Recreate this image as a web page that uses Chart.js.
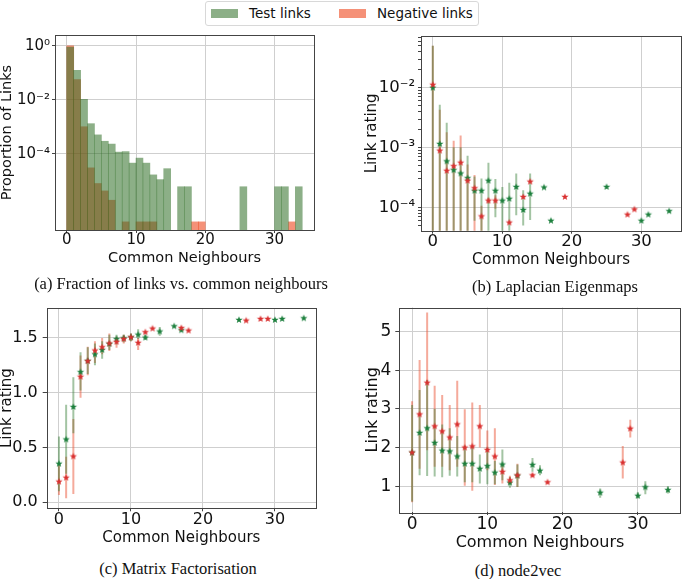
<!DOCTYPE html>
<html>
<head>
<meta charset="utf-8">
<script src="https://cdn.jsdelivr.net/npm/chart.js@4.4.1/dist/chart.umd.min.js"></script>
<style>
  body { margin: 0; background: #fff; width: 685px; height: 579px; position: relative; overflow: hidden; font-family: "DejaVu Sans"; }
  canvas { position: absolute; }
  .cap { position: absolute; font-family: "Liberation Serif"; font-size: 16.5px; line-height: 1; white-space: nowrap; transform: translate(-50%, -50%); color: #111; }
  #legend { position: absolute; left: 205px; top: 1px; width: 274px; height: 25px; box-sizing: border-box; border: 1px solid #d8d8d8; border-radius: 3px; background: #fff; }
  #legend .patch { position: absolute; top: 7px; width: 27px; height: 9px; }
  #legend .lbl { position: absolute; top: 4px; font-size: 13.5px; line-height: 15px; color: #111; }
</style>
</head>
<body>
<canvas id="histA" width="322" height="257" style="left:0px;top:23px"></canvas>
<canvas id="lapB" width="345" height="256" style="left:340px;top:24px"></canvas>
<canvas id="mfC" width="322" height="260" style="left:0px;top:295px"></canvas>
<canvas id="n2vD" width="345" height="260" style="left:340px;top:295px"></canvas>

<div id="legend">
  <span class="patch" style="left:5px;background:rgb(140,175,135)"></span><span class="lbl" style="left:43px">Test links</span>
  <span class="patch" style="left:133px;background:rgb(245,145,120)"></span><span class="lbl" style="left:171px">Negative links</span>
</div>
<div class="cap" style="left:181px;top:284px">(a) Fraction of links vs. common neighbours</div>
<div class="cap" style="left:555px;top:287px">(b) Laplacian Eigenmaps</div>
<div class="cap" style="left:178px;top:569px">(c) Matrix Factorisation</div>
<div class="cap" style="left:518px;top:571px">(d) node2vec</div>

<script>
// ---- data ----
const xTicks = [0, 10, 20, 30];

// (a) histogram, one bin per common-neighbour count (left edges)
const binEdges = [0,1,2,3,4,5,6,7,8,9,10,11,12,13,14,15,16,17,18,19,20,21,22,23,24,25,26,27,28,29,30,31,32,33];
const testHist = [0.9, 0.124, 0.0103, 0.0013, 5e-4, 2.9e-4, 2.3e-4, 1.15e-4, 1.2e-4, 4.5e-5, 6.9e-5, 4.5e-5, 1.65e-5, 1.1e-5, 2.8e-5, null,
  6e-6, 6e-6, null, null, null, null, null, null, null, 6e-6, null, null, null, null, 6e-6, 6e-6, null, 6e-6];
const negHist = [1.0, 0.056, 0.001, 3e-5, 7.9e-6, 4.2e-6, 1.9e-6, null, 3e-7, null, 3e-7, 3e-7, 3e-7, null, null, null,
  null, null, 3e-7, 3e-7, null, null, null, null, null, null, null, null, null, null, null, null, 3e-7, null];
const yTicksA = [1, 1e-2, 1e-4];

// (b) Laplacian Eigenmaps
const bGreenX = [0,1,2,3,4,5,6,7,8,9,10,11,12,13,14,16,17,25,30,31,34];
const bGreenY = [1.0e-2, 1.15e-3, 5.9e-4, 4.2e-4, 3.7e-4, 3.1e-4, 1.9e-4, 1.9e-4, 2.8e-4, 1.9e-4, 1.3e-4, 1.4e-4, 2.2e-4, 9.1e-5, 1.7e-4, 2.16e-4, 6.0e-5, 2.2e-4, 6.0e-5, 7.6e-5, 8.7e-5];
const bGreenLo = [1e-6, 1e-6, 1e-6, 1e-6, 1e-6, 1e-6, 6e-5, 1e-6, 1e-6, 6.9e-5, 1e-6, 1e-6, 7.4e-5, 5e-5, 6.2e-5, null, null, null, null, null, null];
const bGreenHi = [5e-2, 5.2e-3, 2.6e-3, 1.0e-3, 1.0e-3, 7.3e-4, 3.3e-4, 3.05e-4, 5.6e-4, 3.0e-4, 2.2e-4, 2.6e-4, 3.7e-4, 1.94e-4, 3.7e-4, null, null, null, null, null, null];
const bRedX = [0,1,2,3,4,5,6,7,8,9,11,13,14,19,28,29];
const bRedY = [1.12e-2, 8.9e-4, 4.1e-4, 4.9e-4, 5.6e-4, 2.8e-4, 2.1e-4, 7.1e-5, 1.3e-4, 1.3e-4, 5.6e-5, 1.5e-4, 2.7e-4, 1.5e-4, 7.6e-5, 9.3e-5];
const bRedLo = [1e-6, 1e-6, 1e-6, 1e-6, 1e-6, 1e-6, 1e-6, 1e-6, 1.15e-4, 9.5e-5, null, null, null, null, null, null];
const bRedHi = [5e-2, 4.3e-3, 1.8e-3, 1.3e-3, 1.6e-3, 5.2e-4, 3.5e-4, 1.07e-4, 1.45e-4, 1.6e-4, null, null, null, null, null, null];
const yTicksB = [1e-4, 1e-3, 1e-2];

// (c) Matrix Factorisation
const cGreenX = [0,1,2,3,4,5,6,7,8,9,10,11,12,14,16,17,25,30,31,34];
const cGreenY = [0.352, 0.573, 0.870, 1.188, 1.29, 1.35, 1.39, 1.445, 1.49, 1.497, 1.506, 1.53, 1.503, 1.558, 1.606, 1.57, 1.664, 1.664, 1.673, 1.679];
const cGreenLo = [0.10, 0.26, 0.63, 1.02, 1.17, 1.25, 1.31, 1.39, 1.44, 1.46, 1.47, 1.49, 1.48, 1.52, null, null, null, null, null, null];
const cGreenHi = [0.60, 0.89, 1.14, 1.37, 1.415, 1.45, 1.47, 1.53, 1.53, 1.53, 1.54, 1.58, 1.53, 1.60, null, null, null, null, null, null];
const cRedX = [0,1,2,3,4,5,6,7,8,9,10,11,12,13,17,18,26,28,29];
const cRedY = [0.188, 0.224, 0.418, 1.145, 1.288, 1.385, 1.415, 1.45, 1.464, 1.49, 1.506, 1.455, 1.552, 1.585, 1.59, 1.567, 1.658, 1.673, 1.673];
const cRedLo = [0.067, 0.036, 0.076, 0.955, 1.16, 1.27, 1.35, 1.38, 1.41, 1.45, 1.47, 1.39, null, null, null, null, null, null, null];
const cRedHi = [0.35, 0.415, 0.76, 1.34, 1.42, 1.47, 1.5, 1.54, 1.51, 1.53, 1.54, 1.5, null, null, null, null, null, null, null];
const yTicksC = [0, 0.5, 1.0, 1.5];

// (d) node2vec
const dGreenX = [0,1,2,3,4,5,6,7,8,9,10,11,12,13,14,16,17,25,30,31,34];
const dGreenY = [1.87, 2.38, 2.50, 2.12, 1.92, 1.90, 1.77, 1.58, 1.58, 1.45, 1.52, 1.35, 1.56, 1.09, 1.27, 1.55, 1.40, 0.83, 0.75, 0.97, 0.90];
const dGreenLo = [0.6, 1.28, 1.26, 1.25, 1.23, 1.27, 1.25, 1.1, 1.1, 1.07, 1.05, 1.05, 1.15, 0.96, 0.98, 1.37, 1.28, 0.70, 0.68, 0.79, 0.81];
const dGreenHi = [3.1, 3.49, 3.75, 3.0, 2.6, 2.5, 2.3, 2.05, 2.05, 1.82, 2.0, 1.65, 1.95, 1.24, 1.56, 1.73, 1.54, 0.94, 0.84, 1.13, 1.0];
const dRedX = [0,1,2,3,4,5,6,7,8,9,10,11,12,13,14,16,18,28,29];
const dRedY = [1.87, 2.86, 3.68, 2.55, 2.42, 2.26, 2.60, 2.0, 2.03, 2.55, 1.94, 1.77, 1.37, 1.15, 1.28, 1.28, 1.10, 1.61, 2.49];
const dRedLo = [0.58, 1.45, 1.93, 1.5, 1.5, 1.41, 1.5, 1.01, 0.88, 2.0, 1.41, 1.03, 1.07, 1.04, 0.98, 1.24, 1.07, 1.2, 2.26];
const dRedHi = [3.2, 4.27, 5.5, 3.6, 3.36, 3.1, 3.73, 2.99, 3.17, 3.1, 2.44, 2.5, 1.58, 1.27, 1.58, 1.32, 1.13, 2.04, 2.72];
const yTicksD = [1, 2, 3, 4, 5];

// ---- styling ----
const GREEN_FILL = "rgba(46,110,37,0.55)";
const RED_FILL = "rgba(237,55,10,0.55)";
const GREEN_ERR = "rgba(50,125,50,0.45)";
const RED_ERR = "rgba(235,85,55,0.5)";
const GRID = "#cfcfcf";
const INK = "#111";
const SPINE = "#444";

function makeStar(color, r) {
  const c = document.createElement("canvas");
  const s = Math.ceil(r * 2) + 2;
  c.width = s;
  c.height = s;
  const ctx = c.getContext("2d");
  ctx.translate(s / 2, s / 2);
  ctx.beginPath();
  for (let i = 0; i < 10; i++) {
    const rad = i % 2 ? r * 0.42 : r;
    const a = -Math.PI / 2 + i * Math.PI / 5;
    ctx.lineTo(rad * Math.cos(a), rad * Math.sin(a));
  }
  ctx.closePath();
  ctx.fillStyle = color;
  ctx.fill();
  return c;
}
const greenStar = makeStar("#1b7f3c", 3.8);
const redStar = makeStar("#d93030", 3.8);

const SUP = { "-": "\u207B", "0": "\u2070", "1": "\u00B9", "2": "\u00B2", "3": "\u00B3", "4": "\u2074", "5": "\u2075", "6": "\u2076" };
function pow10Label(v) {
  const e = Math.round(Math.log10(v));
  return "10" + String(e).split("").map(ch => SUP[ch]).join("");
}
function isPow10(v) {
  return Math.abs(Math.log10(v) - Math.round(Math.log10(v))) < 1e-6;
}

// top and right spines too
const frame = {
  id: "frame",
  afterDraw(chart) {
    const { ctx, chartArea: a } = chart;
    ctx.save();
    ctx.strokeStyle = SPINE;
    ctx.lineWidth = 1;
    ctx.strokeRect(Math.round(a.left) + 0.5, Math.round(a.top) + 0.5, Math.round(a.right - a.left), Math.round(a.bottom - a.top));
    ctx.restore();
  }
};

function xAxis(p) {
  return {
    type: "linear", min: -1.7, max: 35.7, offset: false,
    afterBuildTicks: s => { s.ticks = xTicks.map(v => ({ value: v })); },
    afterFit: s => { s.height = p.axisH; },
    grid: { color: GRID, offset: false, tickLength: p.tl, tickColor: SPINE },
    border: { display: false },
    ticks: { font: { family: "DejaVu Sans", size: p.tick, lineHeight: 1 }, color: INK, padding: p.pad, maxRotation: 0, autoSkip: false, callback: v => String(v) },
    title: { display: true, text: "Common Neighbours", color: INK, font: { family: "DejaVu Sans", size: p.title, lineHeight: 1 }, padding: { top: 0, bottom: p.titlePad } }
  };
}

function yAxis(p) {
  return {
    type: p.type, min: p.min, max: p.max,
    afterBuildTicks: s => { s.ticks = p.ticks.map(v => ({ value: v })); },
    afterFit: s => { s.width = p.axisW; },
    grid: { color: p.gridColor || GRID, tickLength: p.tl, tickColor: SPINE },
    border: { display: false },
    ticks: { font: { family: "DejaVu Sans", size: p.tick, lineHeight: 1 }, color: INK, padding: p.pad, autoSkip: false, callback: p.fmt },
    title: { display: true, text: p.text, color: INK, font: { family: "DejaVu Sans", size: p.title, lineHeight: 1 }, padding: 0 }
  };
}

function stars(xs, ys, img) {
  return { type: "scatter", data: xs.map((x, i) => ({ x, y: ys[i] })), pointStyle: img, pointRadius: 3, pointHoverRadius: 3 };
}
// vertical error bars as thin floating bars; with grouped:false only maxBarThickness limits the width
function errBars(xs, lo, hi, color) {
  return {
    type: "bar",
    data: xs.map((x, i) => lo[i] == null ? null : { x, y: [lo[i], hi[i]] }).filter(Boolean),
    backgroundColor: color, borderWidth: 0, maxBarThickness: 2, grouped: false
  };
}

const common = {
  responsive: false,
  animation: false,
  plugins: { legend: { display: false }, tooltip: { enabled: false } }
};

// (a)
new Chart(document.getElementById("histA"), {
  type: "bar",
  data: {
    datasets: [
      { label: "Test links", data: binEdges.map((b, i) => ({ x: b + 0.5, y: testHist[i] })), backgroundColor: GREEN_FILL, borderWidth: 0, grouped: false, barPercentage: 1, categoryPercentage: 1 },
      { label: "Negative links", data: binEdges.map((b, i) => ({ x: b + 0.5, y: negHist[i] })), backgroundColor: RED_FILL, borderWidth: 0, grouped: false, barPercentage: 1, categoryPercentage: 1 }
    ]
  },
  options: {
    ...common,
    layout: { padding: { top: 12, right: 8, left: 0, bottom: 0 } },
    scales: {
      x: xAxis({ axisH: 50, tl: 3, pad: 0, tick: 15, title: 14.5, titlePad: 14.25 }),
      y: yAxis({ type: "logarithmic", min: 1.5e-7, max: 2.5, ticks: yTicksA, axisW: 55, tl: 3, pad: 2, tick: 15, title: 14.5, text: "Proportion of Links", fmt: v => pow10Label(v) })
    }
  },
  plugins: [frame]
});

// log minors for (b)
function logTicksWithMinor(majors, min, max) {
  const out = [];
  for (let k = -6; k <= 0; k++) {
    for (let d = 1; d <= 9; d++) {
      const v = d * Math.pow(10, k);
      if (v >= min && v <= max) out.push(v);
    }
  }
  return out.filter(v => !isPow10(v) || majors.some(m => Math.abs(m - v) / m < 1e-6));
}

// (b)
new Chart(document.getElementById("lapB"), {
  type: "scatter",
  data: {
    datasets: [
      stars(bRedX, bRedY, redStar),
      stars(bGreenX, bGreenY, greenStar),
      errBars(bGreenX, bGreenLo, bGreenHi, GREEN_ERR),
      errBars(bRedX, bRedLo, bRedHi, RED_ERR)
    ]
  },
  options: {
    ...common,
    layout: { padding: { top: 12, right: 3.3, left: 25, bottom: 0 } },
    scales: {
      x: xAxis({ axisH: 49.3, tl: 3, pad: 0, tick: 16.5, title: 15, titlePad: 12.5 }),
      y: yAxis({
        type: "logarithmic", min: 4.1e-5, max: 0.073, ticks: logTicksWithMinor(yTicksB, 4.1e-5, 0.073), axisW: 56, tl: 3, pad: 3, tick: 16.5, title: 15, text: "Link rating",
        fmt: v => isPow10(v) ? pow10Label(v) : "",
        gridColor: ctx => (ctx.tick && isPow10(ctx.tick.value)) ? GRID : "rgba(0,0,0,0)"
      })
    }
  },
  plugins: [frame]
});

// (c)
new Chart(document.getElementById("mfC"), {
  type: "scatter",
  data: {
    datasets: [
      stars(cRedX, cRedY, redStar),
      stars(cGreenX, cGreenY, greenStar),
      errBars(cGreenX, cGreenLo, cGreenHi, GREEN_ERR),
      errBars(cRedX, cRedLo, cRedHi, RED_ERR)
    ]
  },
  options: {
    ...common,
    layout: { padding: { top: 12.3, right: 6, left: 0, bottom: 0 } },
    scales: {
      x: xAxis({ axisH: 46.7, tl: 3, pad: 1, tick: 16, title: 15, titlePad: 9.8 }),
      y: yAxis({ type: "linear", min: -0.055, max: 1.773, ticks: yTicksC, axisW: 46.7, tl: 4, pad: 5, tick: 16, title: 15, text: "Link rating", fmt: v => v.toFixed(1) })
    }
  },
  plugins: [frame]
});

// (d)
new Chart(document.getElementById("n2vD"), {
  type: "scatter",
  data: {
    datasets: [
      stars(dRedX, dRedY, redStar),
      stars(dGreenX, dGreenY, greenStar),
      errBars(dGreenX, dGreenLo, dGreenHi, GREEN_ERR),
      errBars(dRedX, dRedLo, dRedHi, RED_ERR)
    ]
  },
  options: {
    ...common,
    layout: { padding: { top: 11.7, right: 4.3, left: 25.3, bottom: 0 } },
    scales: {
      x: xAxis({ axisH: 43, tl: 3, pad: 1, tick: 17, title: 16, titlePad: 3.7 }),
      y: yAxis({ type: "linear", min: 0.33, max: 5.63, ticks: yTicksD, axisW: 34, tl: 4, pad: 4, tick: 17, title: 16, text: "Link rating", fmt: v => String(v) })
    }
  },
  plugins: [frame]
});
</script>
</body>
</html>
